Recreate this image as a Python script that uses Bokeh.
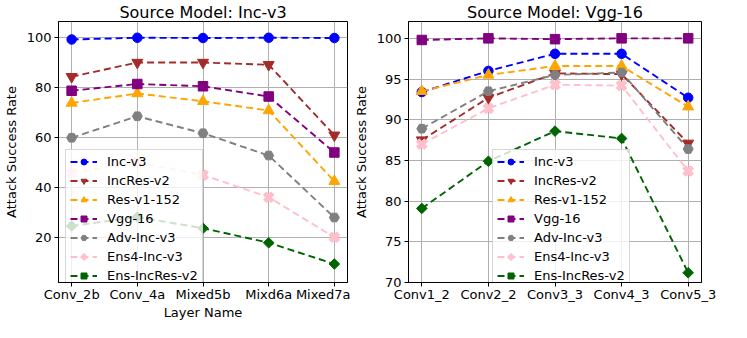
import math
from bokeh.plotting import figure
from bokeh.models import Range1d, FixedTicker, Legend, LegendItem
from bokeh.layouts import row
from bokeh.embed import file_html
from bokeh.resources import INLINE

# ---------------- data ----------------
layers_inc = ["Conv_2b", "Conv_4a", "Mixed5b", "Mixd6a", "Mixed7a"]
layers_vgg = ["Conv1_2", "Conv2_2", "Conv3_3", "Conv4_3", "Conv5_3"]
models = ["Inc-v3", "IncRes-v2", "Res-v1-152", "Vgg-16", "Adv-Inc-v3", "Ens4-Inc-v3", "Ens-IncRes-v2"]

# Source model: Inc-v3
inc_inc_v3 = [99.2, 99.9, 99.8, 99.9, 99.8]
inc_incres_v2 = [84.3, 90.0, 90.0, 89.1, 60.9]
inc_res_v1_152 = [73.8, 77.6, 74.5, 70.8, 42.5]
inc_vgg_16 = [78.7, 81.4, 80.5, 76.4, 54.0]
inc_adv_inc_v3 = [59.9, 68.5, 61.7, 52.8, 28.0]
inc_ens4_inc_v3 = [45.8, 50.0, 45.0, 36.1, 20.1]
inc_ens_incres_v2 = [24.6, 28.2, 23.7, 17.9, 9.4]

# Source model: Vgg-16
vgg_inc_v3 = [93.4, 96.0, 98.1, 98.1, 92.7]
vgg_incres_v2 = [87.5, 92.7, 95.7, 95.6, 87.1]
vgg_res_v1_152 = [93.5, 95.5, 96.6, 96.6, 91.6]
vgg_vgg_16 = [99.8, 100.0, 99.9, 100.0, 100.0]
vgg_adv_inc_v3 = [88.9, 93.5, 95.5, 95.8, 86.4]
vgg_ens4_inc_v3 = [87.0, 91.4, 94.3, 94.2, 83.7]
vgg_ens_incres_v2 = [79.1, 84.9, 88.6, 87.7, 71.2]

inc_yticks = [20, 40, 60, 80, 100]
vgg_yticks = [70, 75, 80, 85, 90, 95, 100]

# ---------------- style ----------------
colors = ["blue", "brown", "orange", "purple", "gray", "pink", "darkgreen"]
markers = ["circle", "inverted_triangle", "triangle", "square", "hex", "plus", "square"]
msizes = [9.5, 11, 11, 9.5, 10, 11, 7.5]
angles = [0, 0, 0, 0, 0, math.pi / 4, math.pi / 4]
FONT = "DejaVu Sans"


def make_fig(title, labels, series, y0, y1, yticks, xlabel, width, mbl, mbr):
    p = figure(width=width, height=322, output_backend="svg", toolbar_location=None,
               x_range=Range1d(-0.2, 4.2), y_range=Range1d(y0, y1),
               min_border_left=mbl, min_border_right=mbr, min_border_top=0,
               min_border_bottom=20)
    p.title.text = title
    p.title.align = "center"
    p.title.text_font = FONT
    p.title.text_font_size = "16px"
    p.title.text_font_style = "normal"
    p.title.text_color = "black"
    p.title.standoff = 0
    p.title.offset = 0
    p.outline_line_color = "black"
    p.outline_line_width = 1
    p.outline_line_alpha = 1
    p.background_fill_color = "white"
    p.border_fill_color = "white"

    p.xaxis.ticker = FixedTicker(ticks=list(range(len(labels))))
    p.xaxis.major_label_overrides = {i: lab for i, lab in enumerate(labels)}
    p.yaxis.ticker = FixedTicker(ticks=yticks)
    for ax in (p.xaxis, p.yaxis):
        ax.major_tick_out = 4
        ax.major_tick_in = 0
        ax.minor_tick_line_color = None
        ax.major_tick_line_color = "black"
        ax.axis_line_color = "black"
        ax.major_label_text_font = FONT
        ax.major_label_text_font_size = "13px"
        ax.major_label_text_color = "black"
        ax.major_label_standoff = 0
        ax.axis_label_text_font = FONT
        ax.axis_label_text_font_size = "13px"
        ax.axis_label_text_font_style = "normal"
        ax.axis_label_text_color = "black"
        ax.axis_label_standoff = 0
    p.yaxis.axis_label_standoff = 5
    p.yaxis.major_label_standoff = 3
    p.yaxis.axis_label = "Attack Success Rate"
    if xlabel:
        p.xaxis.axis_label = xlabel
    p.grid.grid_line_color = "#b0b0b0"
    p.grid.grid_line_width = 1

    xs = list(range(len(labels)))
    items = []
    for name, ys, c, m, s, a in zip(models, series, colors, markers, msizes, angles):
        lr = p.line(xs, ys, line_color=c, line_width=1.9, line_dash="7 4")
        sr = p.scatter(xs, ys, marker=m, size=s, angle=a, fill_color=c, line_color=c)
        items.append(LegendItem(label=name, renderers=[lr, sr]))
    leg = Legend(items=items, location=(7, -6))
    leg.glyph_width = 27
    leg.glyph_height = 15
    leg.label_height = 15
    leg.spacing = 4
    leg.padding = 4
    leg.margin = 0
    leg.label_standoff = 10
    leg.label_text_font = FONT
    leg.label_text_font_size = "13px"
    leg.label_text_color = "black"
    leg.background_fill_alpha = 0.8
    leg.border_line_color = "#cccccc"
    leg.border_line_alpha = 0.8
    p.add_layout(leg)
    return p, leg


p1, l1 = make_fig("Source Model: Inc-v3", layers_inc,
                  [inc_inc_v3, inc_incres_v2, inc_res_v1_152, inc_vgg_16,
                   inc_adv_inc_v3, inc_ens4_inc_v3, inc_ens_incres_v2],
                  2, 106.4, inc_yticks, "Layer Name", 350, 52, 3)
p2, l2 = make_fig("Source Model: Vgg-16", layers_vgg,
                  [vgg_inc_v3, vgg_incres_v2, vgg_res_v1_152, vgg_vgg_16,
                   vgg_adv_inc_v3, vgg_ens4_inc_v3, vgg_ens_incres_v2],
                  70, 102.07, vgg_yticks, None, 381, 55, 30)
l2.location = (84, -6)

layout = row(p1, p2)
open("out.html", "w").write(file_html(layout, INLINE))
